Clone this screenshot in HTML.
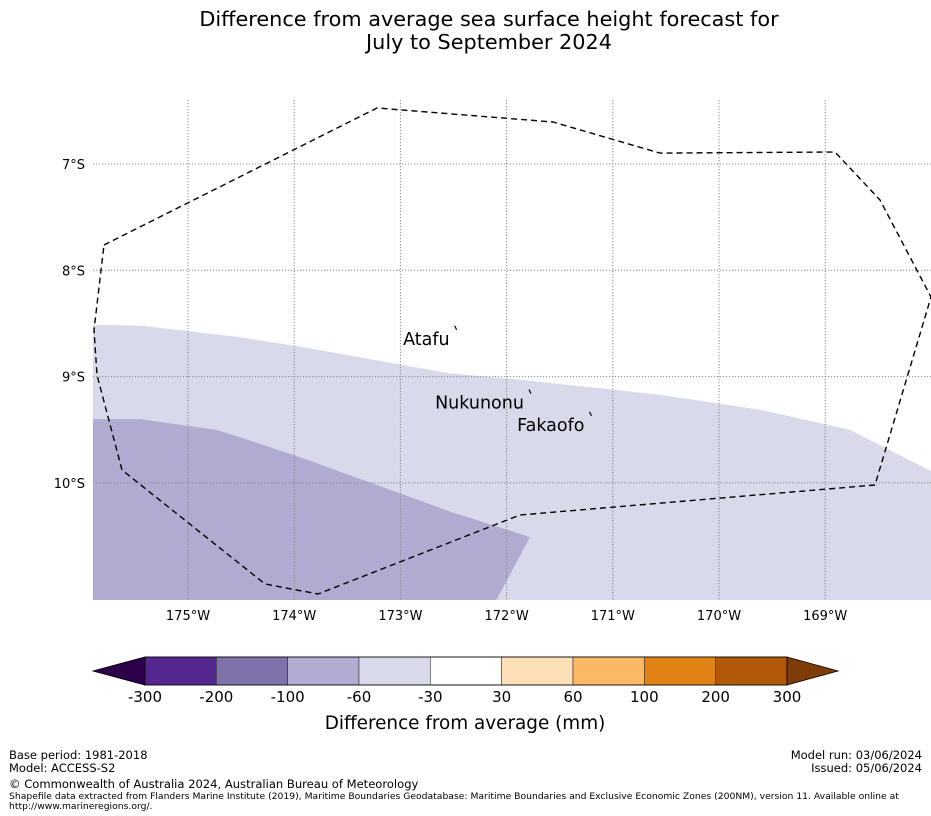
<!DOCTYPE html>
<html><head><meta charset="utf-8"><style>
html,body{margin:0;padding:0;background:#fff;width:931px;height:816px;overflow:hidden}
svg text{font-family:"DejaVu Sans","Liberation Sans",sans-serif}
</style></head><body>
<svg id="chart" width="931" height="816" viewBox="0 0 931 816" xmlns="http://www.w3.org/2000/svg">
<text x="489" y="26" font-size="20.8" text-anchor="middle">Difference from average sea surface height forecast for</text>
<text x="489" y="49" font-size="20.8" text-anchor="middle">July to September 2024</text>
<defs><clipPath id="mapclip"><rect x="93" y="100" width="838" height="500"/></clipPath></defs>
<g id="map" clip-path="url(#mapclip)"></g>
<g id="axes"></g>
<g id="cbar"></g>
<text x="465" y="729" font-size="18.4" text-anchor="middle">Difference from average (mm)</text>
<g font-size="11.5">
<text x="9" y="759">Base period: 1981-2018</text>
<text x="9" y="772">Model: ACCESS-S2</text>
<text x="922" y="759" text-anchor="end">Model run: 03/06/2024</text>
<text x="922" y="772" text-anchor="end">Issued: 05/06/2024</text>
<text x="9" y="788" font-size="11.55">© Commonwealth of Australia 2024, Australian Bureau of Meteorology</text>
<text x="9" y="799" font-size="9.22">Shapefile data extracted from Flanders Marine Institute (2019), Maritime Boundaries Geodatabase: Maritime Boundaries and Exclusive Economic Zones (200NM), version 11. Available online at</text>
<text x="9" y="809" font-size="9.22">http://www.marineregions.org/.</text>
</g>
</svg>
<script>
const lonTicks=[-175,-174,-173,-172,-171,-170,-169];
const latTicks=[-7,-8,-9,-10];
const eezLon=[-175.791,-173.220,-171.563,-170.556,-168.908,-168.484,-168.004,-168.531,-171.874,-173.776,-174.275,-175.621,-175.857,-175.885,-175.791];
const eezLat=[-7.762,-6.473,-6.605,-6.897,-6.887,-7.339,-8.251,-10.020,-10.302,-11.045,-10.951,-9.879,-8.985,-8.562,-7.762];
const lightLon=[-176.0,-175.45,-174.51,-173.94,-172.53,-171.87,-170.56,-169.62,-168.77,-168.0,-168.0,-176.0];
const lightLat=[-8.51,-8.52,-8.63,-8.72,-8.97,-9.03,-9.17,-9.31,-9.50,-9.89,-11.2,-11.2];
const darkLon=[-176.0,-175.45,-174.74,-174.51,-173.94,-172.53,-171.78,-172.15,-176.0];
const darkLat=[-9.40,-9.40,-9.50,-9.57,-9.76,-10.27,-10.51,-11.2,-11.2];
const places=["Atafu","Nukunonu","Fakaofo"];
const placeLon=[-172.48,-171.78,-171.21];
const placeLat=[-8.55,-9.15,-9.36];
const cbBounds=["-300","-200","-100","-60","-30","30","60","100","200","300"];
const cbColors=["#54278f","#8073ac","#b2abd2","#d8daeb","#ffffff","#fee0b6","#fdb863","#e08214","#b35806"];
const cbUnder="#2d004b", cbOver="#7f3b08";
const x=lon=>188+(lon+175)*106.2;
const y=lat=>164-(lat+7)*106.3;
const NS="http://www.w3.org/2000/svg";
function mk(t,a,p){const e=document.createElementNS(NS,t);for(const k in a)e.setAttribute(k,a[k]);p.appendChild(e);return e;}
const map=document.getElementById('map'),axes=document.getElementById('axes'),cb=document.getElementById('cbar');
function pts(lo,la){return lo.map((v,i)=>x(v).toFixed(1)+','+y(la[i]).toFixed(1)).join(' ');}
let e=mk('polygon',{points:pts(lightLon,lightLat),fill:'#d8d9ea'},map);


e=mk('polygon',{points:pts(darkLon,darkLat),fill:'#b1abd1'},map);


lonTicks.forEach(l=>{
 const g=mk('line',{x1:x(l),x2:x(l),y1:100,y2:600,stroke:'#888','stroke-width':1,'stroke-dasharray':'1.2,1.8'},map);
 
 
 const t=mk('text',{x:x(l),y:620,'font-size':13,'text-anchor':'middle'},axes);t.textContent=Math.abs(l)+'°W';
 
 
});
latTicks.forEach(l=>{
 const g=mk('line',{x1:93,x2:931,y1:y(l),y2:y(l),stroke:'#888','stroke-width':1,'stroke-dasharray':'1.2,1.8'},map);
 
 
 const t=mk('text',{x:85,y:y(l)+5,'font-size':13,'text-anchor':'end'},axes);t.textContent=Math.abs(l)+'°S';
 
 
});
e=mk('polyline',{points:pts(eezLon,eezLat),fill:'none',stroke:'#000','stroke-width':1.4,'stroke-dasharray':'6,4'},map);


places.forEach((p,i)=>{
 const t=mk('text',{x:x(placeLon[i])-6,y:y(placeLat[i])+16,'font-size':17.5,'text-anchor':'end'},map);t.textContent=p;
 
 
 const m=mk('line',{x1:x(placeLon[i])-1,y1:y(placeLat[i])-3,x2:x(placeLon[i])+1,y2:y(placeLat[i])+1,stroke:'#000','stroke-width':1.2},map);
 
 
});
const cbX0=145,cbX1=787,cbY0=657,cbY1=685,n=cbColors.length,w=(cbX1-cbX0)/n;
e=mk('polygon',{points:`${cbX0},${cbY0} ${cbX0},${cbY1} 93,671`,fill:cbUnder,stroke:'#000','stroke-width':0.8},cb);


e=mk('polygon',{points:`${cbX1},${cbY0} ${cbX1},${cbY1} 838,671`,fill:cbOver,stroke:'#000','stroke-width':0.8},cb);


cbColors.forEach((c,i)=>{
 const r=mk('rect',{x:cbX0+i*w,y:cbY0,width:w,height:cbY1-cbY0,fill:c,stroke:'#333','stroke-width':0.6},cb);
 
 
});
mk('rect',{x:cbX0,y:cbY0,width:cbX1-cbX0,height:cbY1-cbY0,fill:'none',stroke:'#000','stroke-width':0.8},cb);
cbBounds.forEach((b,i)=>{
 const t=mk('text',{x:cbX0+i*w,y:702,'font-size':15,'text-anchor':'middle'},cb);t.textContent=b;
 
 
});
</script>
</body></html>
